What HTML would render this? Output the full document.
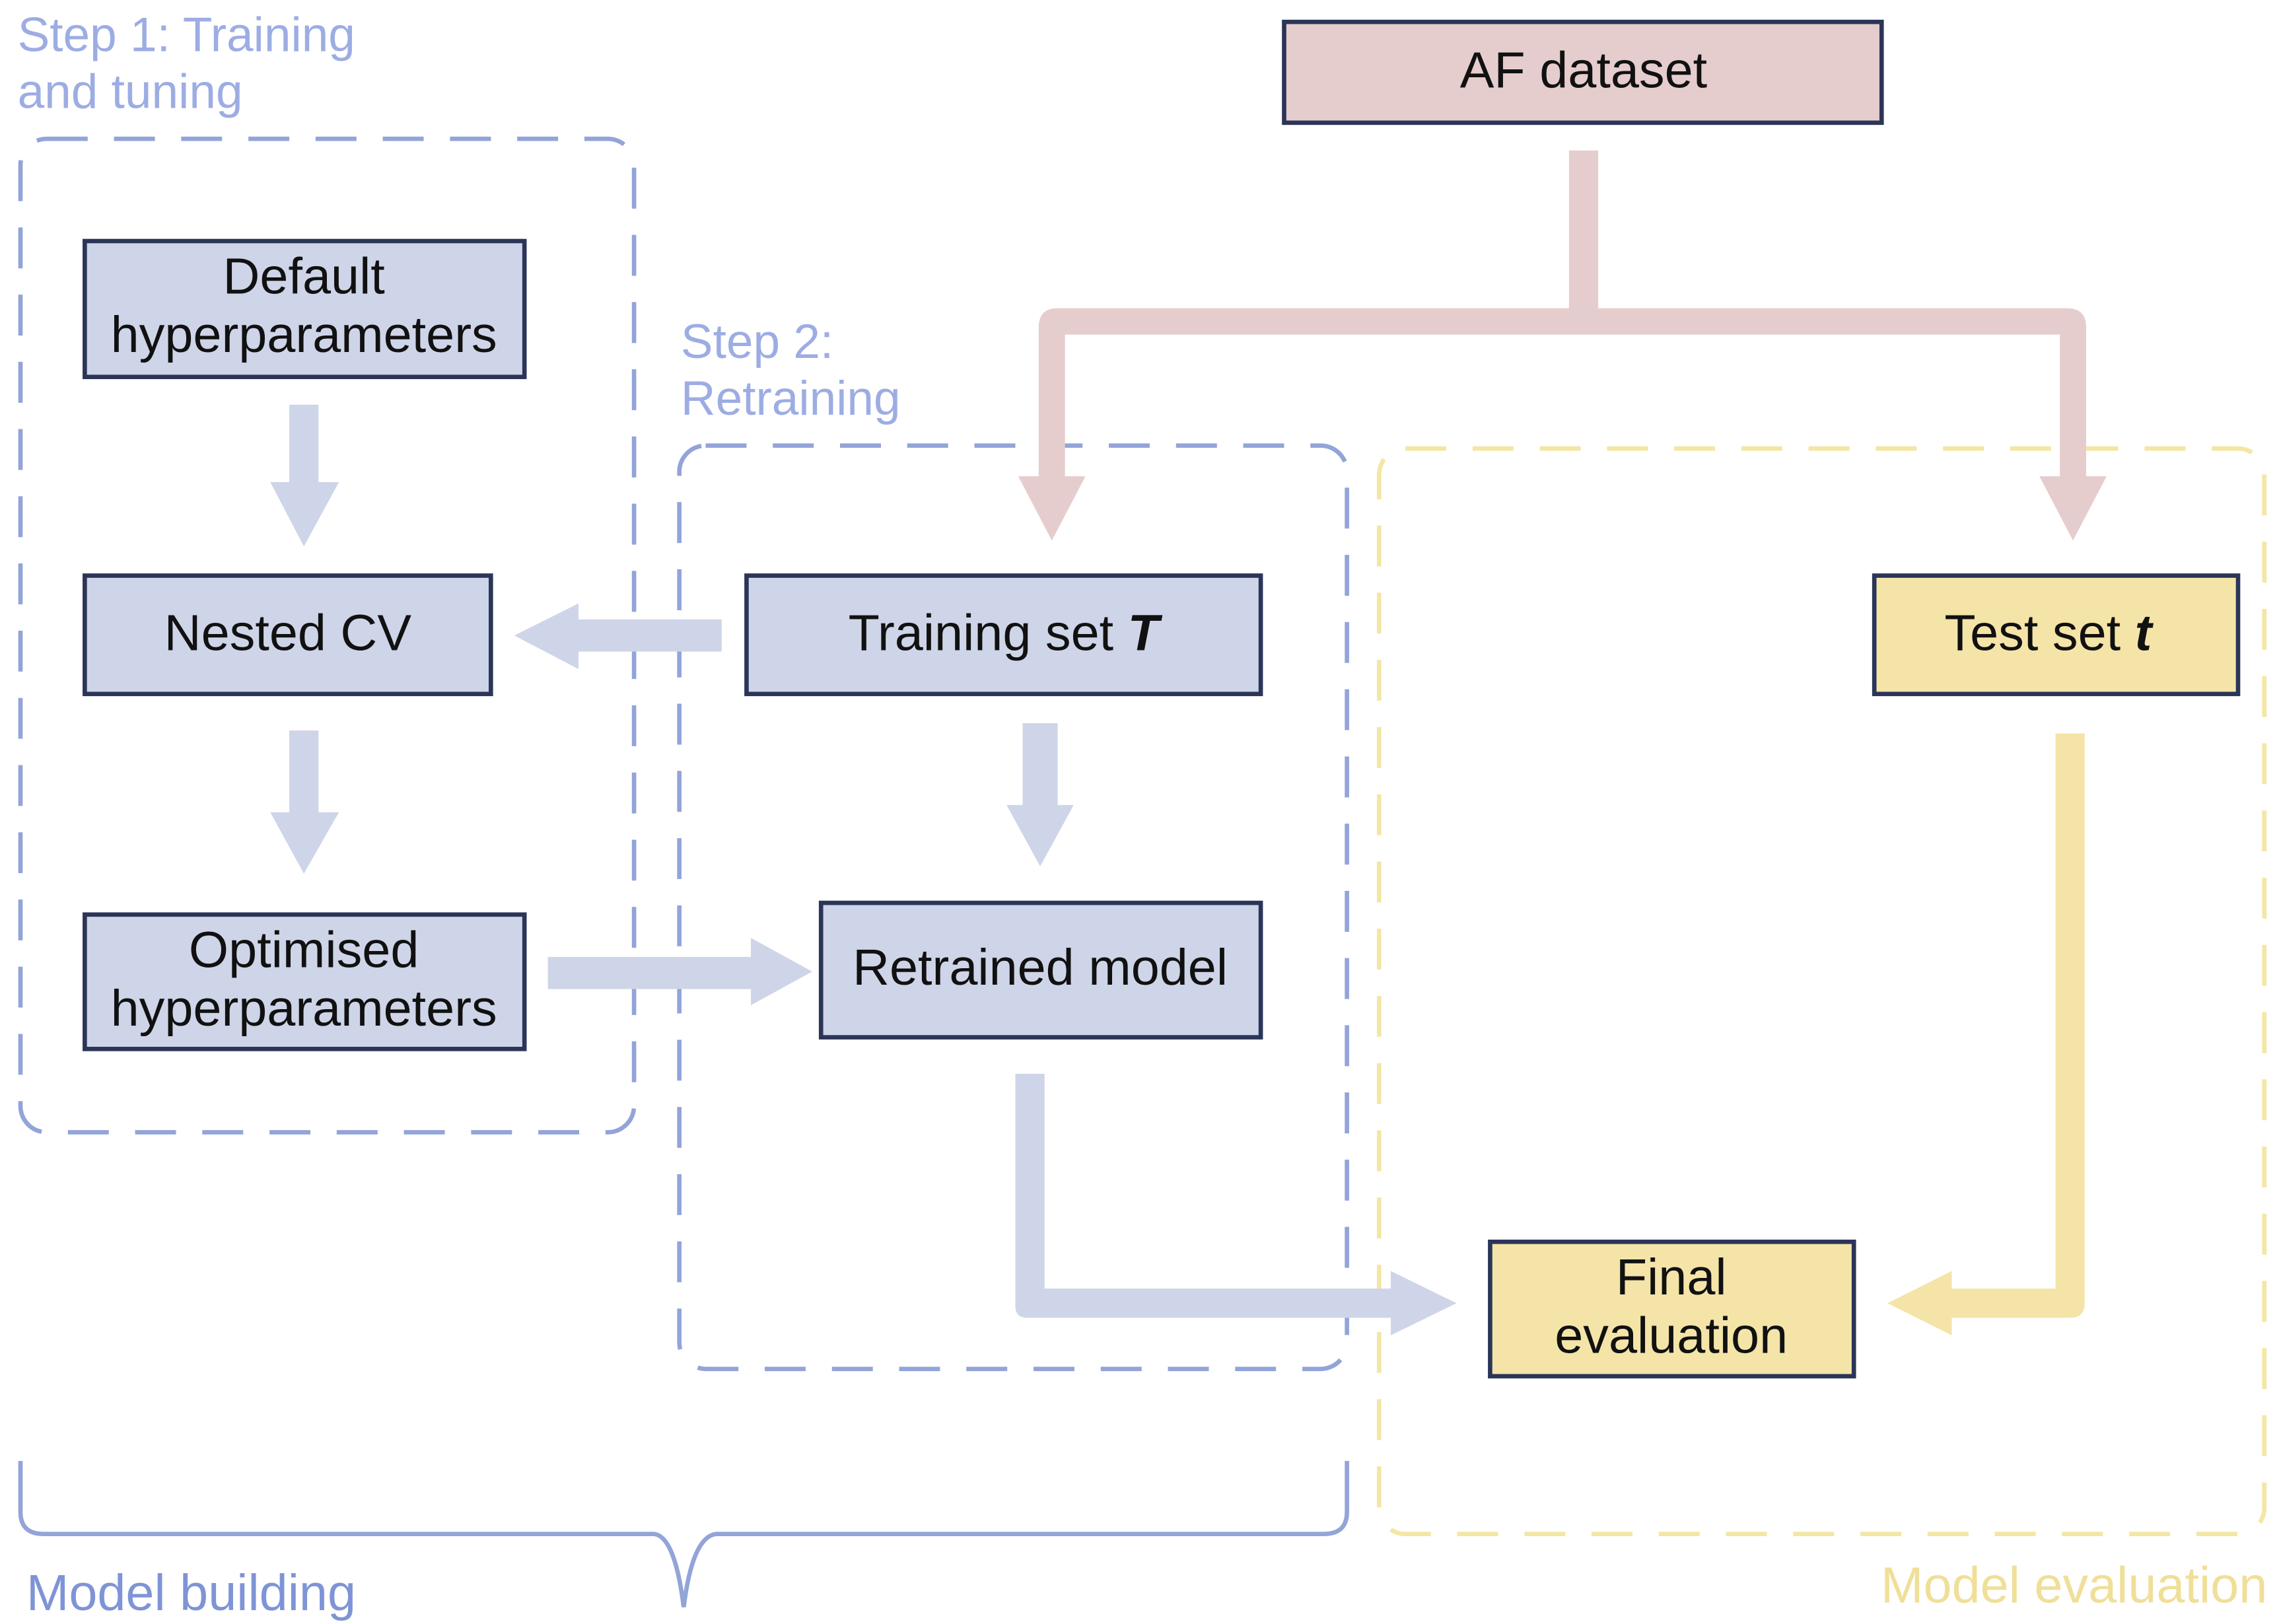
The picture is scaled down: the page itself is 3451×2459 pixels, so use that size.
<!DOCTYPE html>
<html><head><meta charset="utf-8"><style>html,body{margin:0;padding:0;background:#fff}svg{display:block}</style></head>
<body>
<svg width="3451" height="2459" viewBox="0 0 1560 1111.6" xmlns="http://www.w3.org/2000/svg" font-family="Liberation Sans, sans-serif">
<rect width="1560" height="1112" fill="#fff"/>
<rect x="14" y="95" width="420" height="680" rx="18" fill="none" stroke="#92a4d8" stroke-width="3" stroke-dasharray="28 18"/>
<rect x="465" y="305" width="457" height="632" rx="18" fill="none" stroke="#92a4d8" stroke-width="3" stroke-dasharray="28 18"/>
<rect x="944" y="307" width="606" height="743" rx="18" fill="none" stroke="#f4e6a3" stroke-width="3" stroke-dasharray="28 18"/>
<g fill="#9dade3" font-size="33">
<text x="12" y="35">Step 1: Training</text><text x="12" y="74">and tuning</text>
<text x="466" y="245">Step 2:</text><text x="466" y="284">Retraining</text>
</g>
<g fill="#e6cdcd">
<rect x="1074" y="103" width="20" height="115"/>
<path d="M711 330 V224 Q711 211 724 211 H1415 Q1428 211 1428 224 V330 H1410 V229 H729 V330 Z"/>
<path d="M697 326 H743 L720 370 Z"/>
<path d="M1396 326 H1442 L1419 370 Z"/>
</g>
<g fill="#cfd5e8">
<rect x="198" y="277" width="20" height="55"/><path d="M185 330 H232 L208 374 Z"/>
<rect x="198" y="500" width="20" height="58"/><path d="M185 556 H232 L208 598 Z"/>
<rect x="394" y="424" width="100" height="22"/><path d="M396 413 V458 L352 435 Z"/>
<rect x="700" y="495" width="24" height="58"/><path d="M689 551 H735 L712 593 Z"/>
<rect x="375" y="655" width="142" height="22"/><path d="M514 642 V688 L556 665 Z"/>
<path d="M695 735 H715 V882 H955 V902 H703 Q695 902 695 894 Z"/><path d="M952 870 V914 L997 892 Z"/>
</g>
<g fill="#f4e4a8">
<path d="M1407 502 H1427 V892 Q1427 902 1417 902 H1335 V882 H1407 Z"/>
<path d="M1336 870 V914 L1292 892 Z"/>
</g>
<g stroke="#2b3558" stroke-width="3">
<rect x="879" y="15" width="409" height="69" fill="#e6cdcd"/>
<rect x="58" y="165" width="301" height="93" fill="#cfd5e8"/>
<rect x="58" y="394" width="278" height="81" fill="#cfd5e8"/>
<rect x="58" y="626" width="301" height="92" fill="#cfd5e8"/>
<rect x="511" y="394" width="352" height="81" fill="#cfd5e8"/>
<rect x="562" y="618" width="301" height="92" fill="#cfd5e8"/>
<rect x="1283" y="394" width="249" height="81" fill="#f4e4a8"/>
<rect x="1020" y="850" width="249" height="92" fill="#f4e4a8"/>
</g>
<g fill="#111" font-size="35" text-anchor="middle">
<text x="1084" y="60">AF dataset</text>
<text x="208" y="201">Default</text><text x="208" y="241">hyperparameters</text>
<text x="197" y="445">Nested CV</text>
<text x="208" y="662">Optimised</text><text x="208" y="702">hyperparameters</text>
<text x="687" y="445">Training set <tspan font-weight="bold" font-style="italic">T</tspan></text>
<text x="712" y="674">Retrained model</text>
<text x="1402" y="445">Test set <tspan font-weight="bold" font-style="italic">t</tspan></text>
<text x="1144" y="886">Final</text><text x="1144" y="926">evaluation</text>
</g>
<path d="M14 1000 V1035 Q14 1050 30 1050 H448 Q462 1052 468 1100 Q474 1052 490 1050 H906 Q922 1050 922 1035 V1000" fill="none" stroke="#92a4d8" stroke-width="3"/>
<text x="18" y="1102" font-size="35" fill="#7f94d6">Model building</text>
<text x="1552" y="1097" font-size="35" fill="#f0df98" text-anchor="end">Model evaluation</text>
</svg>
</body></html>
